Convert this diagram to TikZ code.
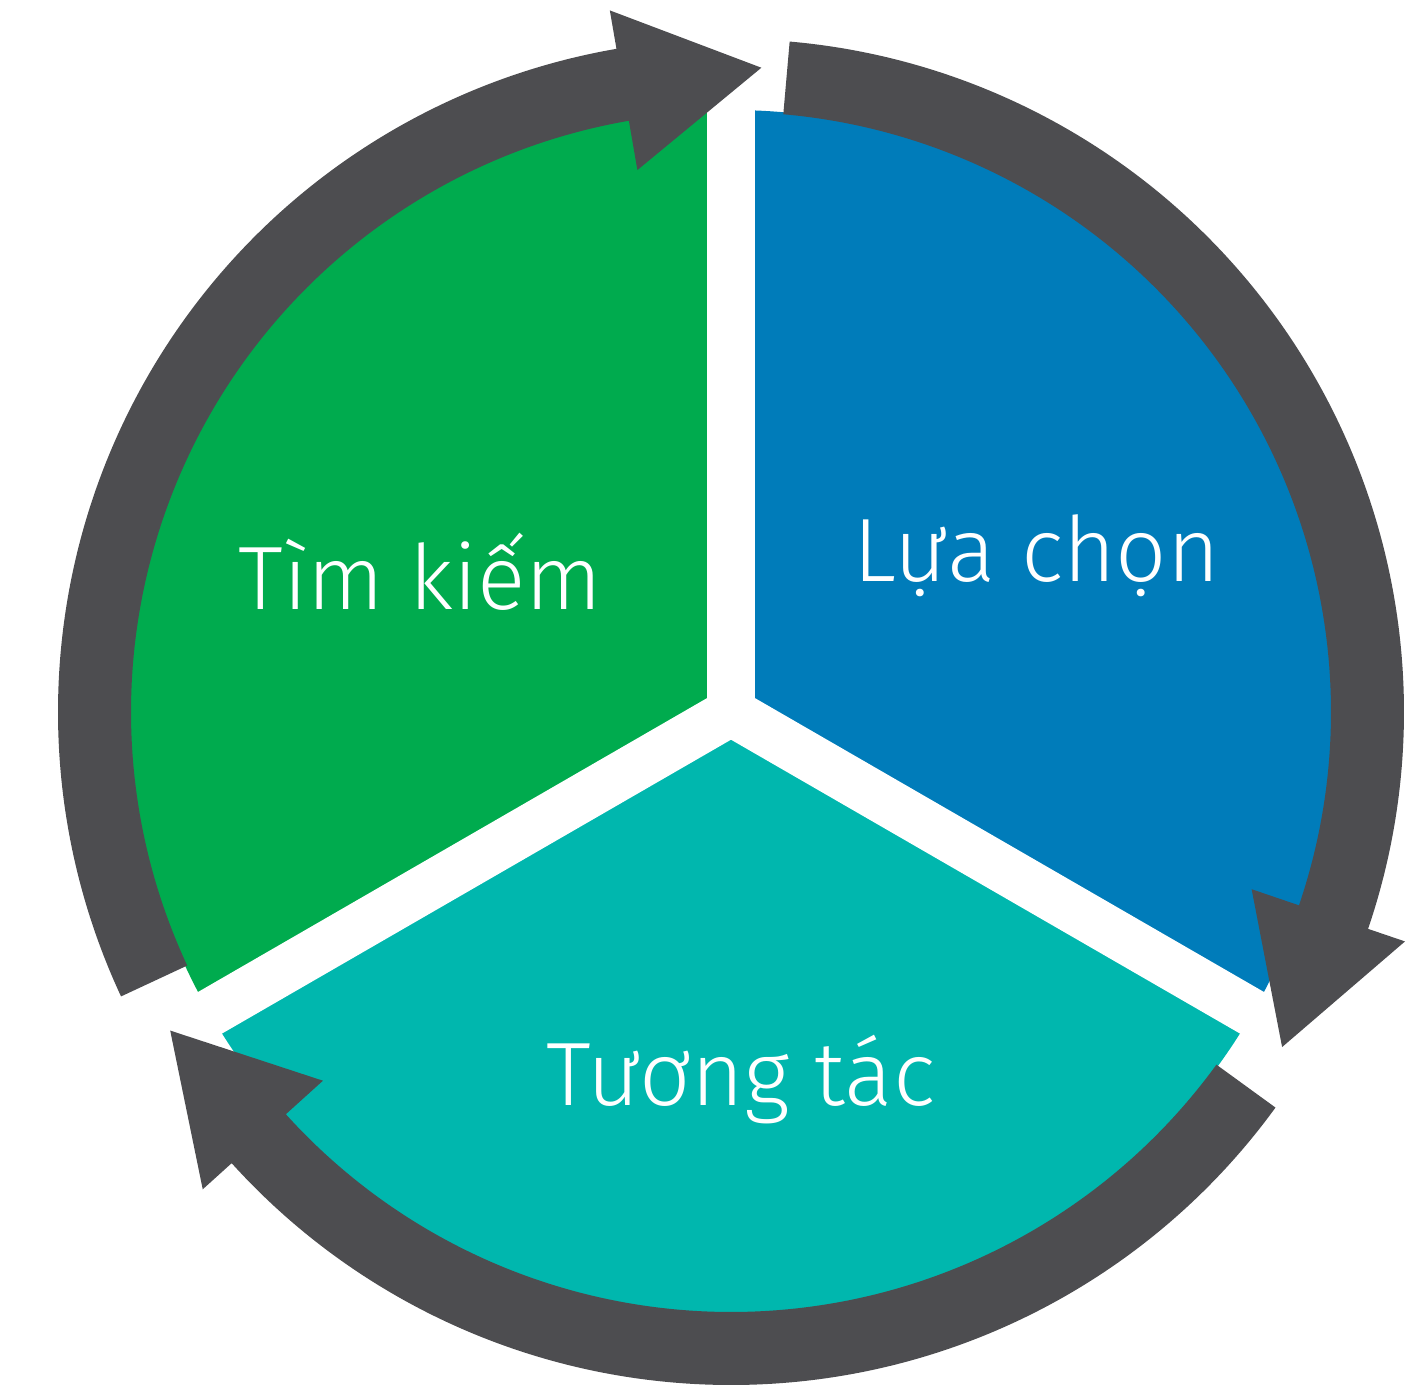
\documentclass[tikz,border=0pt]{standalone}
\usepackage{fontspec}
\usetikzlibrary{calc}
\setmainfont{Fira Sans Light}
\definecolor{segGreen}{RGB}{0,171,78}
\definecolor{segBlue}{RGB}{0,124,186}
\definecolor{segTeal}{RGB}{0,183,174}
\definecolor{ringGray}{RGB}{77,77,80}
\newcommand\ringarrow[2]{%
  \pgfmathsetmacro\hb{#2+12.5}%
  \fill[ringGray] ($(C)+(#1:673)$) arc[start angle=#1, end angle=\hb, radius=673]
    -- ($(C)+(\hb:712)$) -- ($(C)+(#2:645)$) -- ($(C)+(\hb:550)$) -- ($(C)+(\hb:600)$)
    arc[start angle=\hb, end angle=#1, radius=600] -- cycle;}
\begin{document}
\begin{tikzpicture}[x=1pt,y=1pt,
  seglabel/.style={text=white, font=\fontsize{90}{90}\selectfont, anchor=base, inner sep=0pt},
  divider/.style={white, line width=48pt}]
\useasboundingbox (0,0) rectangle (1427,1391);
\coordinate (C) at (731,679);
% sectors
\fill[segGreen] (C) -- ++(90:602) arc[start angle=90, end angle=210, radius=602] -- cycle;
\fill[segTeal] (C) -- ++(210:602) arc[start angle=210, end angle=330, radius=602] -- cycle;
\fill[segBlue] (C) -- ++(330:602) arc[start angle=-30, end angle=90, radius=602] -- cycle;
% dividers
\draw[divider] (C) -- ++(90:607);
\draw[divider] (C) -- ++(210:607);
\draw[divider] (C) -- ++(330:607);
\fill[white] (C) circle[radius=24];
% ring arrows
\ringarrow{205}{87.3}
\ringarrow{85}{-31.3}
\ringarrow{-36}{-150.4}
% labels
\node[seglabel] (search) at (420.5,781) {Tìm kiếm};
\node[seglabel] (choose) at (1036.5,809) {Lựa chọn};
\node[seglabel] (interact) at (741,285) {Tương tác};
\end{tikzpicture}
\end{document}
